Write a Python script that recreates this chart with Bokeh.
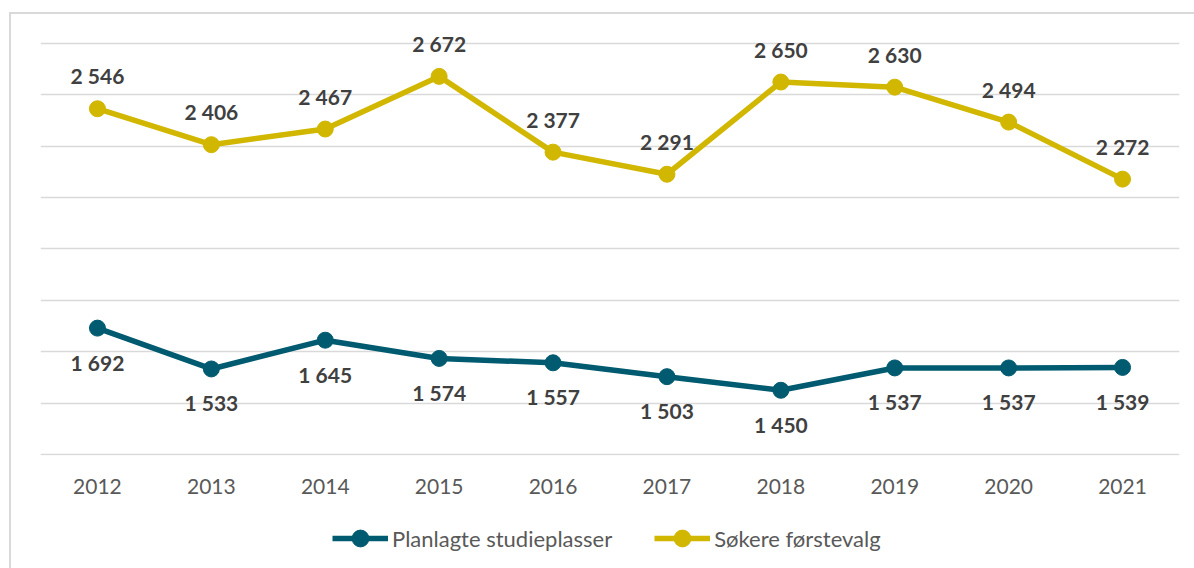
from bokeh.plotting import figure
from bokeh.models import ColumnDataSource, Range1d, FactorRange, Legend, LegendItem
from bokeh.layouts import column
from bokeh.core.properties import value
from bokeh.embed import file_html
from bokeh.resources import INLINE

years = ["2012", "2013", "2014", "2015", "2016", "2017", "2018", "2019", "2020", "2021"]
planlagte = [1692, 1533, 1645, 1574, 1557, 1503, 1450, 1537, 1537, 1539]
sokere = [2546, 2406, 2467, 2672, 2377, 2291, 2650, 2630, 2494, 2272]
series_names = ["Planlagte studieplasser", "Søkere førstevalg"]
y_min, y_max, y_step = 1200, 2800, 200

TEAL = "#005B70"
YELLOW = "#D1B700"
FONT = "Lato"

def fmt(v):
    return f"{v:,}".replace(",", " ")

src_p = ColumnDataSource(dict(x=years, y=planlagte, t=[fmt(v) for v in planlagte]))
src_s = ColumnDataSource(dict(x=years, y=sokere, t=[fmt(v) for v in sokere]))

# main chart (extra headroom above the top gridline so the labels are not clipped)
p = figure(x_range=FactorRange(*years), y_range=Range1d(y_min - 3.9, y_max + 58.4),
           width=1183, height=496, output_backend="svg", toolbar_location=None,
           min_border_left=29, min_border_right=15, min_border_top=14, min_border_bottom=55)
p.outline_line_color = None
p.x_range.range_padding = 0
p.yaxis.visible = False
p.ygrid.ticker = list(range(y_min, y_max + 1, y_step))
p.ygrid.grid_line_color = "#d9d9d9"
p.ygrid.grid_line_width = 1.5
p.xgrid.visible = False

ax = p.xaxis[0]
ax.axis_line_color = None
ax.major_tick_line_color = None
ax.minor_tick_line_color = None
ax.major_tick_out = 0
ax.major_label_standoff = 23
ax.major_label_text_font = FONT
ax.major_label_text_font_size = "21px"
ax.major_label_text_color = "#595959"

p.line("x", "y", source=src_p, line_color=TEAL, line_width=5.5)
p.scatter("x", "y", source=src_p, size=16, fill_color=TEAL, line_color=TEAL)
p.line("x", "y", source=src_s, line_color=YELLOW, line_width=5.5)
p.scatter("x", "y", source=src_s, size=16, fill_color=YELLOW, line_color=YELLOW)

p.text("x", "y", text="t", source=src_s, text_align="center", text_baseline="middle",
       y_offset=-33, text_font=value(FONT), text_font_style="bold",
       text_font_size="21px", text_color="#404040")
p.text("x", "y", text="t", source=src_p, text_align="center", text_baseline="middle",
       y_offset=34, text_font=value(FONT), text_font_style="bold",
       text_font_size="21px", text_color="#404040")

# legend strip below the chart; its renderers hold one point outside the visible range
q = figure(x_range=Range1d(0, 1), y_range=Range1d(0, 1), width=1183, height=58,
           output_backend="svg", toolbar_location=None,
           min_border_left=0, min_border_right=0, min_border_top=0, min_border_bottom=0)
q.axis.visible = False
q.grid.visible = False
q.outline_line_color = None
hidden = dict(x=[-5], y=[-5])
lp = q.line(x="x", y="y", source=ColumnDataSource(hidden), line_color=TEAL, line_width=5.5)
cp = q.scatter(x="x", y="y", source=ColumnDataSource(hidden), fill_color=TEAL, line_color=TEAL)
ls = q.line(x="x", y="y", source=ColumnDataSource(hidden), line_color=YELLOW, line_width=5.5)
cs = q.scatter(x="x", y="y", source=ColumnDataSource(hidden), fill_color=YELLOW, line_color=YELLOW)

legend = Legend(items=[LegendItem(label=series_names[0], renderers=[lp, cp]),
                       LegendItem(label=series_names[1], renderers=[ls, cs])],
                orientation="horizontal", location=(292, 9))
legend.border_line_color = None
legend.background_fill_alpha = 0
legend.label_text_font = FONT
legend.label_text_font_size = "22px"
legend.label_text_color = "#595959"
legend.glyph_width = 56
legend.glyph_height = 42
legend.label_standoff = 4
legend.spacing = 42
legend.margin = 0
legend.padding = 0
q.add_layout(legend, "center")

lay = column(p, q, spacing=0,
             styles={"border-left": "2px solid #d9d9d9", "border-top": "2px solid #d9d9d9",
                     "margin-left": "9px", "margin-top": "12px"})

open("out.html", "w").write(file_html(lay, INLINE))
